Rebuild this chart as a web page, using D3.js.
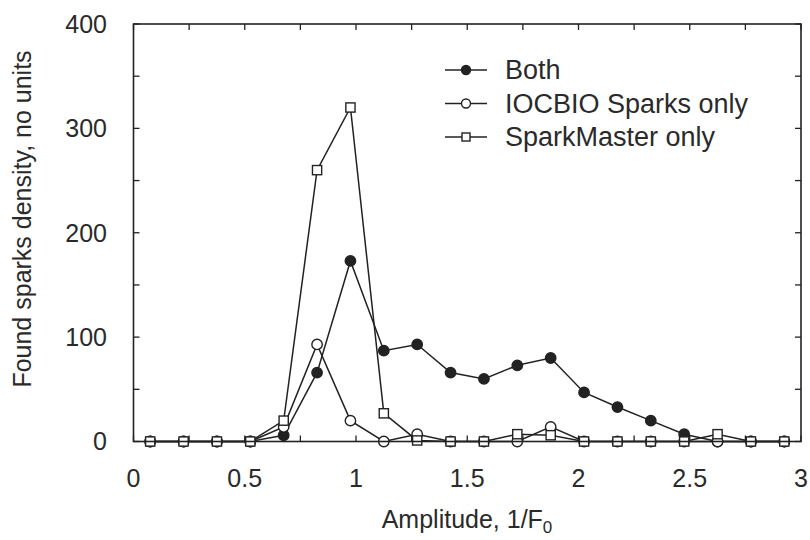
<!DOCTYPE html>
<html>
<head>
<meta charset="utf-8">
<script src="https://cdn.jsdelivr.net/npm/d3@7"></script>
<style>
  html, body { margin: 0; padding: 0; background: #fff; }
  svg { display: block; font-family: "Liberation Sans", Arial, sans-serif; }
</style>
</head>
<body>
<svg id="chart" width="810" height="540"></svg>
<script>
// Data
const amplitude = [0.075, 0.225, 0.375, 0.525, 0.675, 0.825, 0.975, 1.125, 1.275, 1.425,
                   1.575, 1.725, 1.875, 2.025, 2.175, 2.325, 2.475, 2.625, 2.775, 2.925];
const both        = [0, 0, 0, 0, 6, 66, 173, 87, 93, 66, 60, 73, 80, 47, 33, 20, 7, 0, 0, 0];
const iocbioOnly  = [0, 0, 0, 0, 14, 93, 20, 0, 7, 0, 0, 0, 14, 0, 0, 0, 0, 0, 0, 0];
const sparkMaster = [0, 0, 0, 0, 20, 260, 320, 27, 1, 0, 0, 7, 6, 0, 0, 0, 0, 7, 0, 0];
const seriesNames = ["Both", "IOCBIO Sparks only", "SparkMaster only"];
const xTickValues = [0, 0.5, 1, 1.5, 2, 2.5, 3];
const yTickValues = [0, 100, 200, 300, 400];

(function () {
const svg = d3.select("#chart");
const ink = "#222";
const txt = "#2a2a2a";
const pL = 133.5, pR = 801, pT = 24, pB = 441.5;

const x = d3.scaleLinear().domain([0, 3]).range([pL, pR]);
const y = d3.scaleLinear().domain([0, 400]).range([pB, pT]);

// Ticks (inward on all sides)
const minorX = d3.range(0, 3.0001, 0.25);
const minorY = d3.range(0, 400.1, 50);
const tl = 6;
const g = svg.append("g").attr("stroke", ink).attr("stroke-width", 1.3);
minorX.forEach(v => {
  g.append("line").attr("x1", x(v)).attr("x2", x(v)).attr("y1", pB).attr("y2", pB - tl);
  g.append("line").attr("x1", x(v)).attr("x2", x(v)).attr("y1", pT).attr("y2", pT + tl);
});
minorY.forEach(v => {
  g.append("line").attr("x1", pL).attr("x2", pL + tl).attr("y1", y(v)).attr("y2", y(v));
  g.append("line").attr("x1", pR).attr("x2", pR - tl).attr("y1", y(v)).attr("y2", y(v));
});

// Tick labels
svg.append("g").selectAll("text").data(xTickValues).join("text")
  .attr("x", d => x(d)).attr("y", 487)
  .attr("text-anchor", "middle").attr("font-size", 25).attr("fill", txt)
  .text(d => String(d));
svg.append("g").selectAll("text").data(yTickValues).join("text")
  .attr("x", 107).attr("y", d => y(d)).attr("dy", "0.35em")
  .attr("text-anchor", "end").attr("font-size", 25).attr("fill", txt)
  .text(d => String(d));

// Axis titles
const xl = svg.append("text").attr("x", 467).attr("y", 528)
  .attr("text-anchor", "middle").attr("font-size", 25).attr("fill", txt);
xl.append("tspan").text("Amplitude, 1/F");
xl.append("tspan").attr("font-size", 17).attr("dy", 5).text("0");

svg.append("text")
  .attr("transform", "translate(31,219) rotate(-90)")
  .attr("text-anchor", "middle").attr("font-size", 25).attr("fill", txt)
  .text("Found sparks density, no units");

// Series
const line = d3.line().x(d => x(d[0])).y(d => y(d[1]));
const series = [
  { name: seriesNames[0], values: both, type: "filled" },
  { name: seriesNames[1], values: iocbioOnly, type: "open" },
  { name: seriesNames[2], values: sparkMaster, type: "square" }
];

function drawMarker(sel, type, cx, cy, r) {
  if (type === "square") {
    sel.append("rect").attr("x", cx - r).attr("y", cy - r).attr("width", 2 * r).attr("height", 2 * r)
      .attr("fill", "#fff").attr("stroke", ink).attr("stroke-width", 1.4);
  } else {
    sel.append("circle").attr("cx", cx).attr("cy", cy).attr("r", r)
      .attr("fill", type === "filled" ? ink : "#fff").attr("stroke", ink).attr("stroke-width", 1.4);
  }
}

series.forEach(s => {
  const pts = amplitude.map((a, i) => [a, s.values[i]]);
  svg.append("path").datum(pts).attr("d", line)
    .attr("fill", "none").attr("stroke", ink).attr("stroke-width", 1.5);
  const mg = svg.append("g");
  pts.forEach(p => drawMarker(mg, s.type, x(p[0]), y(p[1]), s.type === "square" ? 4.6 : 5.2));
});

// Frame
svg.append("rect").attr("x", pL).attr("y", pT).attr("width", pR - pL).attr("height", pB - pT)
  .attr("fill", "none").attr("stroke", ink).attr("stroke-width", 1.6);

// Legend
const legY = [70, 103.5, 137];
series.forEach((s, i) => {
  const lg = svg.append("g");
  lg.append("line").attr("x1", 445).attr("x2", 487).attr("y1", legY[i]).attr("y2", legY[i])
    .attr("stroke", ink).attr("stroke-width", 1.5);
  drawMarker(lg, s.type, 466, legY[i], s.type === "square" ? 4 : 4.5);
  lg.append("text").attr("x", 505).attr("y", legY[i]).attr("dy", "0.35em")
    .attr("font-size", 27).attr("fill", txt).text(s.name);
});
})();
</script>
</body>
</html>
